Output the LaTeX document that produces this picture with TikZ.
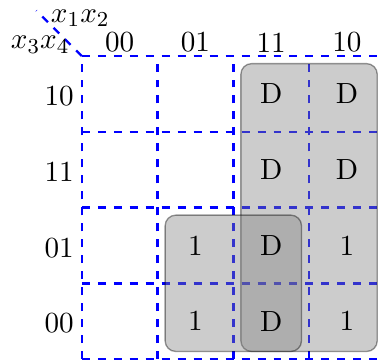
\documentclass[tikz,border=0pt,11pt]{standalone}
\usepackage{tikz}
\tikzset{every picture/.style={line width=0.75pt}}
\tikzset{
    kgrid/.style={blue, dashed, line width=0.9pt},
    kgroup/.style={fill=gray, draw=black, opacity=0.4, rounded corners, line width=0.5pt},
}

\begin{document}
\begin{tikzpicture}
    \useasboundingbox (-1.08,-4.03) rectangle (3.91,0.74);
    \draw[kgrid] (0,0) grid (4,-4);
    \coordinate (corner) at (0,0);
    \coordinate (tip) at (-0.6,0.6);
    \draw[kgrid] (corner) -- (tip);
    \node (x12) at (-0.02,0.5) {$x_1x_2$};
    \node (x34) at (-0.55,0.15) {$x_3x_4$};
    \foreach \lab [count=\i from 0] in {00,01,11,10}
        \node (col\i) at (\i+0.5,0.18) {\lab};
    \foreach \lab [count=\j from 0] in {10,11,01,00}
        \node (row\j) at (-0.3,-\j-0.53) {\lab};
    % groups
    \draw[kgroup] (2.1,-0.1) rectangle (3.9,-3.9);
    \draw[kgroup] (1.1,-2.1) rectangle (2.9,-3.9);
    \foreach \c/\r/\v in {2/0/D,3/0/D,2/1/D,3/1/D,1/2/1,2/2/D,3/2/1,1/3/1,2/3/D,3/3/1}
        \node (cell\c\r) at (\c+0.5,-\r-0.5) {\v};
\end{tikzpicture}
\end{document}
